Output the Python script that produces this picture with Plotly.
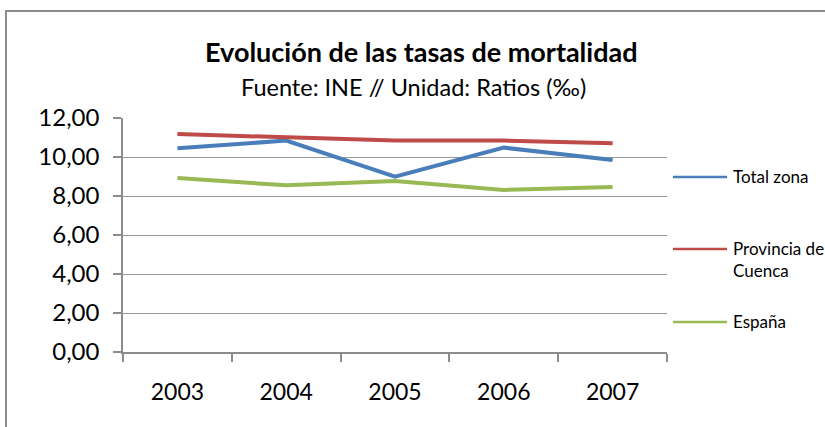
import plotly.graph_objects as go

years = ["2003", "2004", "2005", "2006", "2007"]
total_zona = [10.45, 10.84, 8.99, 10.48, 9.85]
provincia_cuenca = [11.18, 11.00, 10.84, 10.84, 10.70]
espana = [8.92, 8.55, 8.77, 8.31, 8.46]

series_names = ["Total zona", "Provincia de<br>Cuenca", "España"]
series_values = [total_zona, provincia_cuenca, espana]
colors = ["#4a7ebb", "#be4b48", "#98b954"]
y_ticks = [0, 2, 4, 6, 8, 10, 12]

FONT = "Lato"

# plot area in window pixels: x 123..667, y 118..352
L, R, T, B = 123, 667, 118, 352
W, H = R - L, B - T
def px(x): return (x - L) / W
def py(y): return (B - y) / H

fig = go.Figure()
for name, vals, col in zip(series_names, series_values, colors):
    fig.add_trace(go.Scatter(x=years, y=vals, mode="lines", name=name,
                             line=dict(color=col, width=4), showlegend=False))

shapes = [dict(type="rect", xref="paper", yref="paper",
               x0=px(6), x1=px(900), y0=py(500), y1=py(11),
               line=dict(color="#8c8c8c", width=2), fillcolor="rgba(0,0,0,0)", layer="below")]
annotations = [
    dict(text="<b>Evolución de las tasas de mortalidad</b>", xref="paper", yref="paper",
         x=px(421), y=py(52), showarrow=False, font=dict(family=FONT, size=27, color="#000"),
         xanchor="center", yanchor="middle"),
    dict(text="Fuente: INE // Unidad: Ratios (‰)", xref="paper", yref="paper",
         x=px(413), y=py(87), showarrow=False, font=dict(family=FONT, size=23.5, color="#000"),
         xanchor="center", yanchor="middle"),
]
legend_y = [177, 249, 322]
for name, col, ly in zip(series_names, colors, legend_y):
    shapes.append(dict(type="line", xref="paper", yref="paper",
                       x0=px(673), x1=px(727), y0=py(ly), y1=py(ly),
                       line=dict(color=col, width=2.5)))
    annotations.append(dict(text=name, xref="paper", yref="paper", x=px(731), y=py(ly - 13),
                            showarrow=False, xanchor="left", yanchor="top", align="left",
                            font=dict(family=FONT, size=17, color="#000")))

fig.update_layout(
    width=825, height=427,
    margin=dict(l=L, r=825 - R, t=T, b=427 - B),
    paper_bgcolor="white", plot_bgcolor="white",
    separators=",.",
    font=dict(family=FONT, color="#000"),
    shapes=shapes, annotations=annotations,
    xaxis=dict(type="category", tickson="boundaries", ticks="outside", ticklen=8,
               tickcolor="#8c8c8c", tickwidth=1.5, showline=True, linecolor="#8c8c8c",
               linewidth=1.5, showgrid=False, tickfont=dict(size=23, family=FONT),
               ticklabelstandoff=19, range=[-0.5, 4.5]),
    yaxis=dict(range=[0, 12], tickvals=y_ticks, tickformat=".2f", ticks="outside",
               ticklen=8, tickcolor="#8c8c8c", tickwidth=1.5, showline=True,
               linecolor="#8c8c8c", linewidth=1.5, gridcolor="#999999", gridwidth=1.2,
               zeroline=False, tickfont=dict(size=24, family=FONT),
               ticklabelstandoff=9),
)

fig.write_html("out.html", config={"displayModeBar": False},
               post_script="document.body.style.margin='0';document.body.style.padding='0';")
